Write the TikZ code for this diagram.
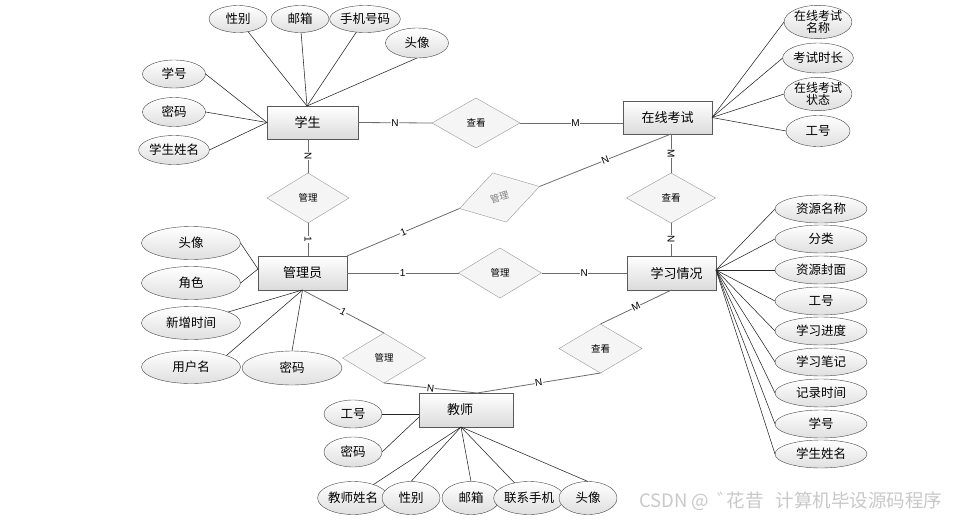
\documentclass[tikz,border=0pt]{standalone}
\usepackage{fontspec}
\setmainfont{Liberation Sans}
\newfontfamily\cjk{Noto Sans CJK SC}
\usetikzlibrary{shapes.geometric}
\tikzset{
  ent/.style={rectangle, draw=gray!70!black, top color=white, bottom color=gray!28, minimum height=33pt, inner sep=0pt, outer sep=0pt, font=\cjk\fontsize{13}{15}\selectfont},
  attr/.style={ellipse, draw=gray!55!black, top color=white, bottom color=gray!25, inner sep=0pt, outer sep=0pt, font=\cjk\fontsize{12.5}{13}\selectfont, align=center},
  rel/.style={diamond, draw=gray!80, fill=gray!8, inner sep=0pt, outer sep=0pt, font=\cjk\fontsize{9.5}{10}\selectfont},
  rl/.style={draw=gray!85!black, line width=0.8pt},
  al/.style={draw=gray!30!black, line width=0.55pt},
  lab/.style={font=\fontsize{10}{11}\selectfont, fill=white, inner sep=0.5pt, sloped}
}
\begin{document}
\begin{tikzpicture}[x=1pt,y=-1pt]
\fill[white] (0,0) rectangle (954,520);
\useasboundingbox (0,0) rectangle (954,520);

% entities
\node[ent, minimum width=91pt] (stu) at (312.5,122.5) {学生\hspace*{10pt}};
\node[ent, minimum width=89pt] (exam) at (667.5,117.5) {在线考试};
\node[ent, minimum width=89pt, minimum height=34pt] (adm) at (302.5,273) {管理员};
\node[ent, minimum width=89pt, minimum height=34pt] (study) at (671.5,273) {\hspace*{10pt}学习情况};
\node[ent, minimum width=94pt, minimum height=34pt] (tea) at (466,410) {教师\hspace*{12pt}};

% relationships
\node[rel, minimum width=88pt, minimum height=50pt] (d1) at (476,123) {查看};
\node[rel, minimum width=82pt, minimum height=50pt] (d2) at (308,198) {管理};
\node[rel, minimum width=83pt, minimum height=51pt, rotate=15.4, text=gray] (d3) at (499.5,197.5) {管理};
\node[rel, minimum width=89pt, minimum height=50pt] (d4) at (671,198) {查看};
\node[rel, minimum width=83pt, minimum height=50pt] (d5) at (500,273) {管理};
\node[rel, minimum width=83pt, minimum height=50pt] (d6) at (384,358) {管理};
\node[rel, minimum width=83pt, minimum height=49pt] (d7) at (600.5,348.5) {查看};

% relationship connectors
\coordinate (exS) at (d4.north |- exam.south);
\coordinate (tT) at (477,393);
\draw[rl] (stu.east) -- node[lab]{N} (d1.west);
\draw[rl] (d1.east) -- node[lab, pos=0.54]{M} (d1.east -| exam.west);
\draw[rl] (d2.north |- stu.south) -- node[lab]{N} (d2.north);
\draw[rl] (d2.south) -- node[lab]{1} (d2.south |- adm.north);
\draw[rl] (adm.north east) -- node[lab]{1} (d3.west);
\draw[rl] (d3.east) -- node[lab]{N} (exS);
\draw[rl] (exS) -- node[lab]{M} (d4.north);
\draw[rl] (d4.south) -- node[lab]{N} (d4.south |- study.north);
\draw[rl] (adm.east) -- node[lab]{1} (d5.west);
\draw[rl] (d5.east) -- node[lab]{N} (study.west);
\draw[rl] (adm.south) -- node[lab]{1} (d6.north);
\draw[rl] (d6.south) -- node[lab]{N} (tT);
\draw[rl] (study.south) -- node[lab]{M} (d7.north);
\draw[rl] (d7.south) -- node[lab]{N} (tT);

% student attributes
\coordinate (stuT) at (307,106);
\node[attr, minimum width=58pt, minimum height=27pt] (s1) at (238,19) {性别};
\node[attr, minimum width=58pt, minimum height=27pt] (s2) at (300,19) {邮箱};
\node[attr, minimum width=64pt, minimum height=27pt] (s3) at (365,19) {手机号码};
\node[attr, minimum width=63pt, minimum height=30pt] (s4) at (417,43) {头像};
\node[attr, minimum width=63pt, minimum height=28pt] (s5) at (174,74) {学号};
\node[attr, minimum width=63pt, minimum height=29pt] (s6) at (174,112) {密码};
\node[attr, minimum width=63pt, minimum height=29pt] (s7) at (174,150) {学生姓名};
\draw[al] (s1) -- (stuT);
\draw[al] (s2) -- (stuT);
\draw[al] (s3) -- (stuT);
\draw[al] (s4.south) -- (stuT);
\draw[al] (s5.east) -- (stu.west);
\draw[al] (s6.east) -- (stu.west);
\draw[al] (s7.east) -- (stu.west);

% exam attributes
\node[attr, minimum width=64pt, minimum height=31pt, font=\cjk\fontsize{12}{12.5}\selectfont] (e1) at (818,22) {在线考试\\名称};
\node[attr, minimum width=64pt, minimum height=30pt] (e2) at (818,58) {考试时长};
\node[attr, minimum width=64pt, minimum height=31pt, font=\cjk\fontsize{12}{12.5}\selectfont] (e3) at (818,94) {在线考试\\状态};
\node[attr, minimum width=64pt, minimum height=31pt] (e4) at (818,131) {工号};
\foreach \e in {e1,e2,e3,e4} \draw[al] (\e.west) -- (exam.east);

% admin attributes
\coordinate (admL) at (258,269);
\node[attr, minimum width=99pt, minimum height=33pt] (a1) at (191,243) {头像};
\node[attr, minimum width=99pt, minimum height=33pt] (a2) at (191,283) {角色};
\node[attr, minimum width=99pt, minimum height=33pt] (a3) at (191,323) {新增时间};
\node[attr, minimum width=99pt, minimum height=33pt] (a4) at (191,367) {用户名};
\node[attr, minimum width=100pt, minimum height=34pt] (a5) at (292,368) {密码};
\draw[al] (a1.east) -- (admL);
\draw[al] (a2.east) -- (admL);
\draw[al] (a3) -- (adm.south);
\draw[al] (a4.18) -- (adm.south);
\draw[al] (a5.north) -- (adm.south);

% study attributes
\coordinate (stE) at (716,270);
\node[attr, minimum width=92pt, minimum height=28pt] (r1) at (821,209) {资源名称};
\node[attr, minimum width=92pt, minimum height=28pt] (r2) at (821,239) {分类};
\node[attr, minimum width=92pt, minimum height=28pt] (r3) at (821,270) {资源封面};
\node[attr, minimum width=92pt, minimum height=28pt] (r4) at (821,301) {工号};
\node[attr, minimum width=92pt, minimum height=28pt] (r5) at (821,331) {学习进度};
\node[attr, minimum width=92pt, minimum height=28pt] (r6) at (821,362) {学习笔记};
\node[attr, minimum width=92pt, minimum height=28pt] (r7) at (821,393) {记录时间};
\node[attr, minimum width=92pt, minimum height=28pt] (r8) at (821,424) {学号};
\node[attr, minimum width=92pt, minimum height=28pt] (r9) at (821,454) {学生姓名};
\foreach \r in {r1,r2,r3,r4,r5,r6,r7,r8,r9} \draw[al] (\r.west) -- (stE);

% teacher attributes
\coordinate (teaL) at (419,417);
\coordinate (teaB) at (461,427);
\node[attr, minimum width=58pt, minimum height=28pt] (t1) at (353,414) {工号};
\node[attr, minimum width=58pt, minimum height=30pt] (t2) at (353,452) {密码};
\node[attr, minimum width=58pt, minimum height=33pt] (t3) at (353,498) {教师姓名};
\node[attr, minimum width=58pt, minimum height=33pt] (t4) at (411,498) {性别};
\node[attr, minimum width=58pt, minimum height=33pt] (t5) at (471,498) {邮箱};
\node[attr, minimum width=58pt, minimum height=33pt] (t6) at (529,498) {联系手机};
\node[attr, minimum width=58pt, minimum height=33pt] (t7) at (588,498) {头像};
\draw[al] (t1.east) -- (t1.east -| tea.west);
\draw[al] (t2.east) -- (teaL);
\draw[al] (t3) -- (teaB);
\draw[al] (t4.north) -- (teaB);
\draw[al] (t5.north) -- (teaB);
\draw[al] (t6) -- (teaB);
\draw[al] (t7.north) -- (teaB);

% watermark
\node[anchor=west, text=gray!42, inner sep=0pt, font=\cjk\fontsize{18.5}{20}\selectfont] (wm) at (639,501) {CSDN @\hspace{8pt}゛\hspace{-9pt}花昔\hspace{12pt}计算机毕设源码程序};
\end{tikzpicture}
\end{document}
